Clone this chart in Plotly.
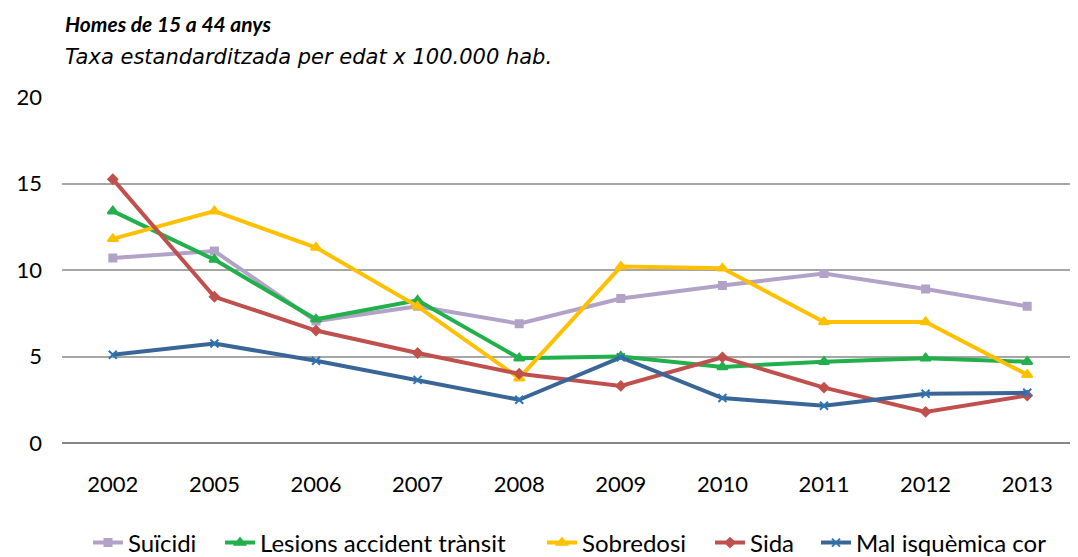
import plotly.graph_objects as go

years = ["2002", "2005", "2006", "2007", "2008", "2009", "2010", "2011", "2012", "2013"]
suicidi = [10.7, 11.1, 7.05, 7.9, 6.9, 8.35, 9.1, 9.8, 8.9, 7.9]
lesions = [13.4, 10.6, 7.15, 8.25, 4.9, 5.0, 4.4, 4.7, 4.9, 4.7]
sobredosi = [11.8, 13.4, 11.3, 7.9, 3.75, 10.2, 10.1, 7.0, 7.0, 3.95]
sida = [15.25, 8.45, 6.5, 5.2, 4.0, 3.3, 4.95, 3.2, 1.8, 2.75]
isquemica = [5.1, 5.75, 4.75, 3.65, 2.5, 4.95, 2.6, 2.15, 2.85, 2.9]

W, H = 1070, 549
L, T, B = 54, 89, 114
plot_h = H - T - B
plot_w = W - L

# legend text start positions (page px) for each item
legend_text_x = [128, 260, 582, 750, 856]

series = [
    ("Suïcidi", suicidi, "#B3A2C7", "#B3A2C7", "square", 7),
    ("Lesions accident trànsit", lesions, "#22B04C", "#22B04C", "triangle-up", 9),
    ("Sobredosi", sobredosi, "#FFC000", "#FFC000", "triangle-up", 9),
    ("Sida", sida, "#C0504D", "#C0504D", "diamond", 7),
    ("Mal isquèmica cor", isquemica, "#3A6597", "#2E75B6", "x-thin-open", 8),
]

fig = go.Figure()
legend_layouts = {}
for i, (name, vals, lc, mc, sym, ms) in enumerate(series):
    lname = "legend" if i == 0 else f"legend{i + 1}"
    fig.add_trace(go.Scatter(
        x=years, y=vals, name=name, mode="lines+markers",
        line=dict(color=lc, width=4),
        marker=dict(symbol=sym, size=ms, color=mc, line=dict(color=mc, width=2)),
        legend=lname,
    ))
    box_left = legend_text_x[i] - 8 - 40
    legend_layouts[lname] = dict(
        x=(box_left - L) / plot_w, xanchor="left",
        y=(H - B - 535) / plot_h, yanchor="middle",
        orientation="h", font=dict(size=24), bgcolor="rgba(0,0,0,0)",
    )

font = "Lato, 'Open Sans', sans-serif"
fig.update_layout(
    width=W, height=H,
    margin=dict(l=L, r=0, t=T, b=B, autoexpand=False),
    paper_bgcolor="white", plot_bgcolor="white",
    font=dict(family=font, size=22, color="black"),
    showlegend=True,
    xaxis=dict(type="category", range=[-0.5, 9.5], showgrid=False, showline=False,
               ticks="", tickfont=dict(size=22), ticklabelstandoff=26),
    yaxis=dict(range=[0, 20], dtick=5, showgrid=True, gridcolor="#A6A6A6", gridwidth=1.5,
               zeroline=True, zerolinecolor="#868686", zerolinewidth=2, showline=False,
               ticks="", tickfont=dict(size=22), ticklabelstandoff=19),
    annotations=[
        dict(text="<b><i>Homes de 15 a 44 anys</i></b>", xref="paper", yref="paper",
             x=1 / plot_w, y=(H - B - 1) / plot_h,
             xanchor="left", yanchor="top", showarrow=False,
             font=dict(size=21, family="Lato, sans-serif")),
        dict(text="<i>Taxa estandarditzada per edat x 100.000 hab.</i>", xref="paper", yref="paper",
             x=1 / plot_w, y=(H - B - 49) / plot_h,
             xanchor="left", yanchor="middle", showarrow=False,
             font=dict(size=21, family="'DejaVu Sans', sans-serif")),
    ],
    **legend_layouts,
)

fig.write_html("out.html")
